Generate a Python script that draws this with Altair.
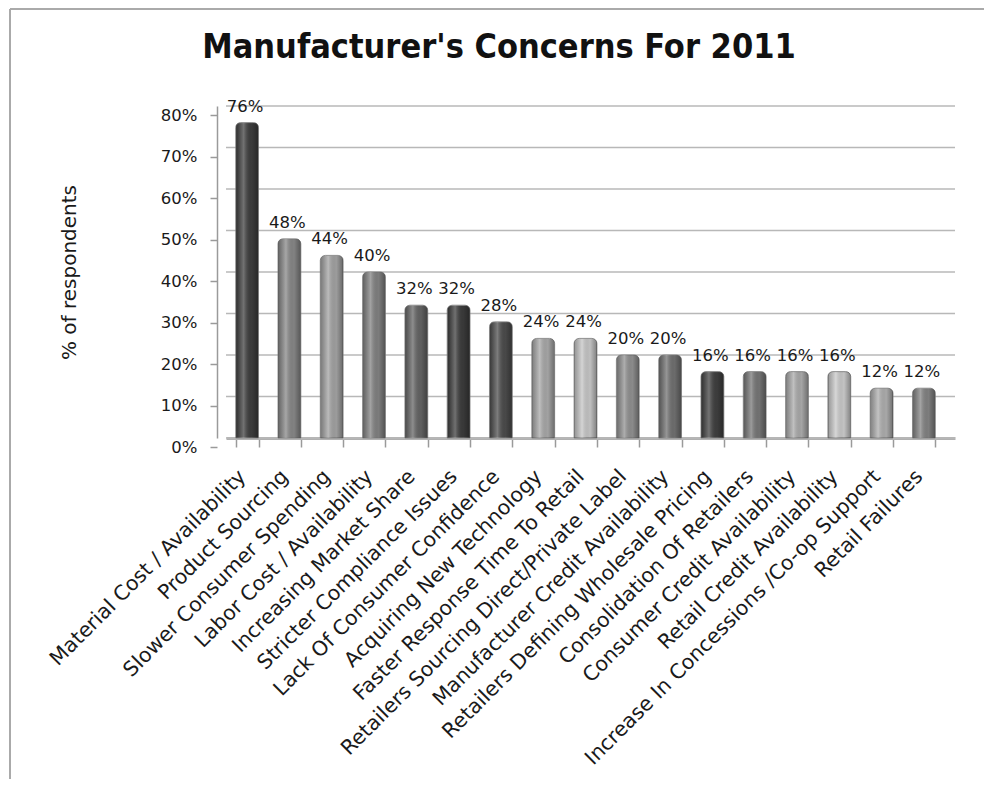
import altair as alt
import pandas as pd

categories = [
    "Material Cost / Availability",
    "Product Sourcing",
    "Slower Consumer Spending",
    "Labor Cost / Availability",
    "Increasing Market Share",
    "Stricter Compliance Issues",
    "Lack Of Consumer Confidence",
    "Acquiring New Technology",
    "Faster Response Time To Retail",
    "Retailers Sourcing Direct/Private Label",
    "Manufacturer Credit Availability",
    "Retailers Defining Wholesale Pricing",
    "Consolidation Of Retailers",
    "Consumer Credit Availability",
    "Retail Credit Availability",
    "Increase In Concessions /Co-op Support",
    "Retail Failures",
]
values = [76, 48, 44, 40, 32, 32, 28, 24, 24, 20, 20, 16, 16, 16, 16, 12, 12]
bar_colors = [
    "#3c3c3c", "#858585", "#a0a0a0", "#7f7f7f", "#626262", "#3a3a3a",
    "#4a4a4a", "#a6a6a6", "#c4c4c4", "#8e8e8e", "#6e6e6e", "#3e3e3e",
    "#747474", "#a8a8a8", "#c8c8c8", "#acacac", "#808080",
]
y_ticks = [0, 10, 20, 30, 40, 50, 60, 70, 80]
title_text = "Manufacturer's Concerns For 2011"
y_title = "% of respondents"

df = pd.DataFrame({
    "concern": categories,
    "pct": values,
    "color": bar_colors,
    "label": [f"{v}%" for v in values],
})
grid_df = pd.DataFrame({"pct": y_ticks})
frame_df = pd.DataFrame({"a": [0]})

FONT = "DejaVu Sans"

x_scale = alt.Scale(paddingInner=0.46, paddingOuter=0.347, align=0.33)
y_scale = alt.Scale(domain=[0, 80])

x_enc = alt.X(
    "concern:N", sort=categories, scale=x_scale,
    axis=alt.Axis(
        title=None, labelAngle=-45, labelAlign="right", labelBaseline="top",
        labelFont=FONT, labelFontSize=20.5, labelColor="#1a1a1a",
        labelPadding=19, labelOffset=-12, labelLimit=1000, tickSize=9,
        tickBand="extent", tickColor="#9a9a9a", tickWidth=1.5, tickOffset=-9,
        domainColor="#b0b0b0", domainWidth=3,
    ),
)
y_enc = alt.Y(
    "pct:Q", scale=y_scale,
    axis=alt.Axis(
        values=y_ticks, labelExpr="datum.value + '%'", grid=False,
        tickOffset=9, offset=9, tickSize=7, tickColor="#9a9a9a", tickWidth=1.5,
        domainColor="#9a9a9a", domainWidth=1.5, labelPadding=13, labelFont=FONT,
        labelFontSize=16.5, labelColor="#1a1a1a",
        title=y_title, titleFont=FONT, titleFontSize=20,
        titleFontWeight="normal", titleColor="#1a1a1a", titlePadding=81,
    ),
)

grid = alt.Chart(grid_df).mark_rule(color="#b8b8b8", strokeWidth=1.5).encode(
    y=y_enc
)

bars = alt.Chart(df).mark_bar(
    cornerRadiusTopLeft=5, cornerRadiusTopRight=5,
    stroke="#7a7a7a", strokeWidth=0.8,
).encode(
    x=x_enc, y=y_enc, fill=alt.Fill("color:N", scale=None)
)

shine = alt.Chart(df).mark_bar(
    cornerRadiusTopLeft=5, cornerRadiusTopRight=5,
    fill=alt.Gradient(
        gradient="linear", x1=0, x2=1, y1=0, y2=0,
        stops=[
            alt.GradientStop(offset=0, color="rgba(0,0,0,0.25)"),
            alt.GradientStop(offset=0.35, color="rgba(255,255,255,0.28)"),
            alt.GradientStop(offset=0.7, color="rgba(0,0,0,0.02)"),
            alt.GradientStop(offset=1, color="rgba(0,0,0,0.35)"),
        ],
    ),
).encode(x=x_enc, y=y_enc)

labels = alt.Chart(df).mark_text(
    dy=-11, dx=-2, baseline="alphabetic", font=FONT, fontSize=16.5, color="#1a1a1a"
).encode(x=x_enc, y=y_enc, text="label:N")

title = alt.Chart(frame_df).mark_text(
    text=title_text, font="DejaVu Sans Condensed, DejaVu Sans", fontSize=34,
    fontWeight="bold", color="#111111", align="center", baseline="alphabetic",
).encode(x=alt.value(273), y=alt.value(-48))

frame_left = alt.Chart(frame_df).mark_rule(color="#aaaaaa", strokeWidth=2).encode(
    x=alt.value(-216), y=alt.value(-97), y2=alt.value(900)
)
frame_top = alt.Chart(frame_df).mark_rule(color="#aaaaaa", strokeWidth=2).encode(
    x=alt.value(-216), x2=alt.value(900), y=alt.value(-97)
)

chart = alt.layer(grid, bars, shine, labels, title, frame_left, frame_top).properties(
    width=729, height=332,
    autosize=alt.AutoSizeParams(type="none"),
    padding={"left": 218, "top": 98, "right": 29, "bottom": 341},
).configure(background="white", view=alt.ViewConfig(stroke=None))

chart.save("out.html", embed_options={"renderer": "svg", "actions": False})
